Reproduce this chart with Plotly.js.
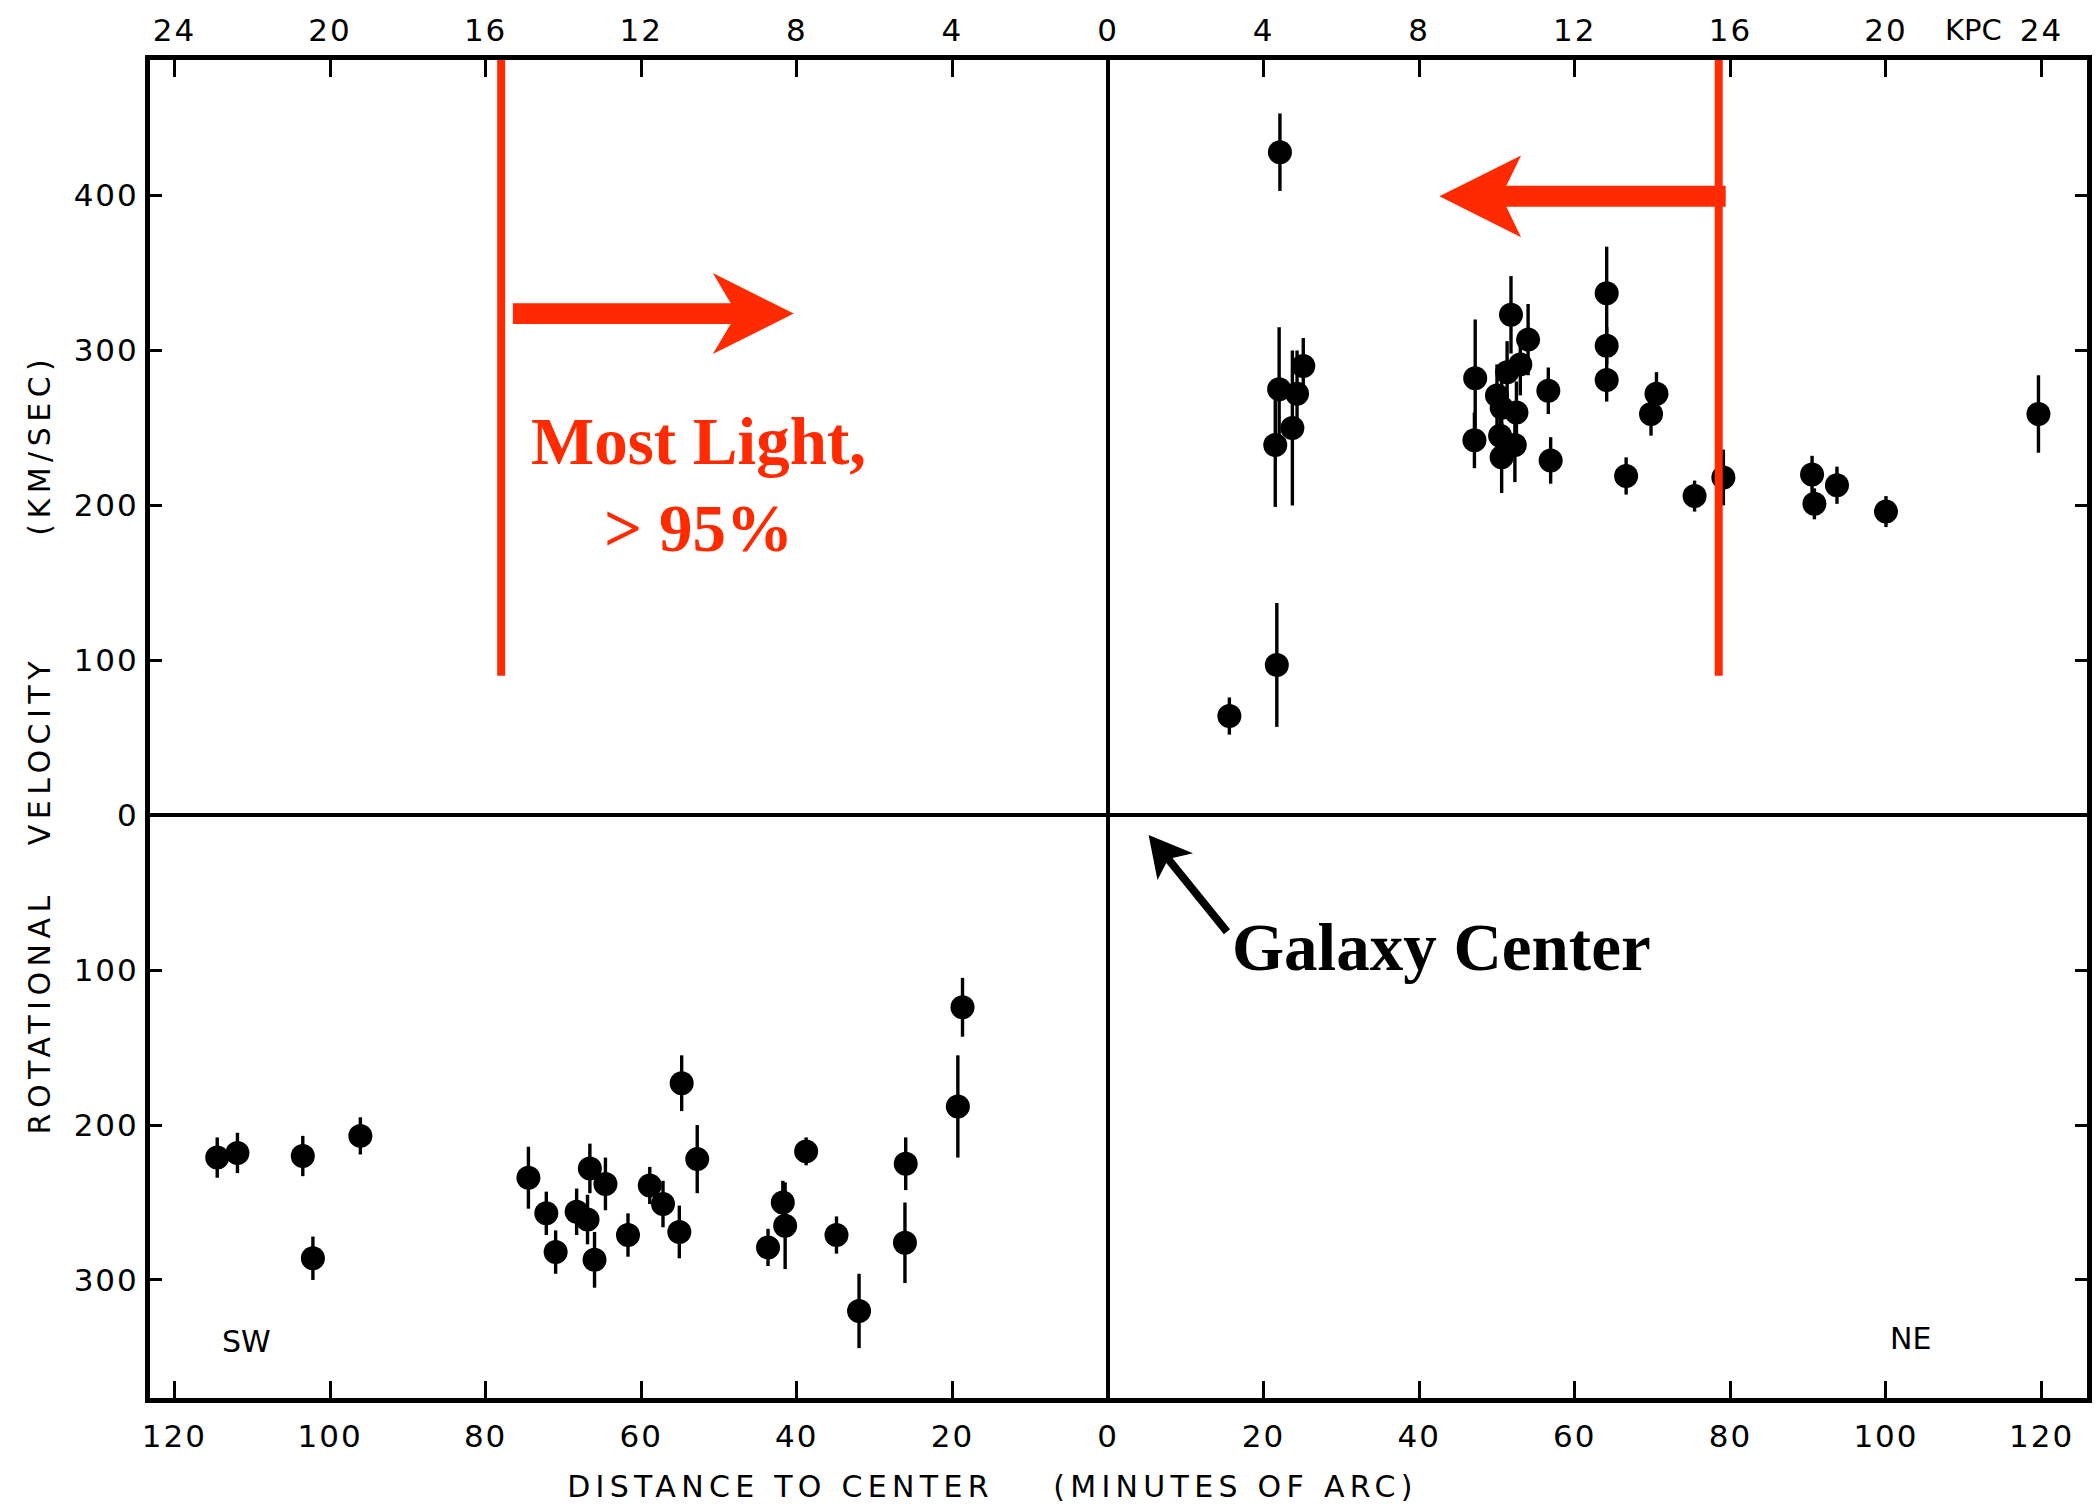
<!DOCTYPE html>
<html>
<head>
<meta charset="utf-8">
<script src="https://cdn.plot.ly/plotly-3.0.1.min.js"></script>
<style>
  html, body { margin: 0; padding: 0; background: #fff; }
  #chart { width: 2099px; height: 1510px; }
  .xtitle { letter-spacing: 5.3px; }
  .ytitle { letter-spacing: 5.5px; }
  .xtick text, .x2tick text, .ytick text { letter-spacing: 2px; }
</style>
</head>
<body>
<div id="chart"></div>
<script>
// ---- Data (distance in arcmin, velocity in km/s) ----
// North-east side (receding, positive velocity)
const neDistance = [15.6, 21.7, 22.1, 21.5, 22.0, 23.7, 24.3, 25.1, 47.2, 47.1, 50.0, 50.6, 50.4, 50.6, 51.3, 51.8, 52.3, 52.5, 53.0, 54.0, 56.6, 56.9, 64.1, 64.1, 64.1, 66.6, 69.8, 70.5, 75.4, 79.1, 90.5, 90.8, 93.7, 100.0, 119.6];
const neVelocity = [64, 97, 428, 239, 275, 250, 272, 290, 282, 242, 271, 263, 245, 231, 286, 323, 239, 260, 291, 307, 274, 229, 337, 303, 281, 219, 259, 272, 206, 218, 220, 201, 213, 196, 259];
const neError    = [12, 40, 25, 40, 40, 50, 28, 18, 38, 18, 20, 20, 20, 23, 20, 25, 24, 20, 20, 23, 15, 15, 30, 12, 14, 12, 14, 14, 10, 18, 12, 10, 12, 10, 25];

// South-west side (approaching, negative velocity)
const swDistance = [-114.5, -111.9, -103.5, -96.1, -102.2, -74.5, -72.2, -71.0, -66.6, -64.6, -68.3, -66.9, -66.0, -61.7, -58.9, -57.2, -55.1, -54.8, -52.8, -43.7, -41.8, -41.5, -38.8, -34.9, -32.0, -26.1, -26.0, -19.3, -18.7];
const swVelocity = [-221, -218, -220, -207, -286, -234, -257, -282, -228, -238, -256, -261, -287, -271, -239, -251, -269, -173, -222, -279, -250, -265, -217, -271, -320, -276, -225, -188, -124];
const swError    = [13, 13, 13, 12, 14, 20, 14, 14, 16, 17, 15, 16, 18, 14, 12, 15, 17, 18, 22, 12, 14, 28, 9, 12, 24, 26, 17, 33, 19];

// Axis ticks
const arcTickVals  = [-120, -100, -80, -60, -40, -20, 0, 20, 40, 60, 80, 100, 120];
const arcTickText  = ['120', '100', '80', '60', '40', '20', '0', '20', '40', '60', '80', '100', '120'];
const kpcTickText  = ['24', '20', '16', '12', '8', '4', '0', '4', '8', '12', '16', '20', '24'];
const velTickVals  = [-300, -200, -100, 0, 100, 200, 300, 400];
const velTickText  = ['300', '200', '100', '0', '100', '200', '300', '400'];

// Limits of the "most light" region (arcmin) and where its markers stop (km/s)
const lightEdge = 78;
const lightBottom = 90;

// ---- Styling ----
const RED = '#ff2a00';
const SANS = 'DejaVu Sans, sans-serif';
const TICKFONT = { family: SANS, size: 31, color: '#000' };
const XR = [-123.14, 125.84];
const YR = [-376.2, 487.5];
const NB = '\u00A0';
const ZW = '\u200B';   // keeps trailing no-break spaces from being trimmed
const sp = (n) => NB.repeat(n);

const dotStyle = { color: '#000', size: 24, symbol: 'circle', line: { width: 0 } };
const errStyle = (arr) => ({ type: 'data', array: arr, visible: true, color: '#000', thickness: 3.4, width: 0 });

const traces = [
  { x: neDistance, y: neVelocity, error_y: errStyle(neError), mode: 'markers', type: 'scatter',
    marker: dotStyle, showlegend: false, hoverinfo: 'x+y', name: 'NE' },
  { x: swDistance, y: swVelocity, error_y: errStyle(swError), mode: 'markers', type: 'scatter',
    marker: dotStyle, showlegend: false, hoverinfo: 'x+y', name: 'SW' },
  { x: [0], y: [0], xaxis: 'x2', yaxis: 'y', mode: 'markers', type: 'scatter',
    marker: { opacity: 0 }, showlegend: false, hoverinfo: 'skip' }
];

// arrow outlines (data coordinates)
function poly(pts) { return 'M' + pts.map(p => p[0] + ',' + p[1]).join(' L') + ' Z'; }
const rightArrow = poly([[-76.5, 330.5], [-48.5, 330.5], [-50.8, 350.0], [-40.4, 323.8], [-50.8, 297.7], [-48.5, 317.1], [-76.5, 317.1]]);
const leftArrow  = poly([[79.4, 406.4], [51.2, 406.4], [53.1, 425.8], [42.6, 399.5], [53.1, 373.1], [51.2, 392.8], [79.4, 392.8]]);
const blackArrow = poly([[5.22, -12.78], [10.93, -24.60], [8.29, -27.70], [15.69, -73.60], [14.90, -76.82], [7.49, -30.92], [6.36, -41.83]]);

const layout = {
  width: 2099, height: 1510,
  margin: { l: 150, r: 12, t: 60, b: 112, pad: 0 },
  paper_bgcolor: '#fff', plot_bgcolor: '#fff',
  showlegend: false,
  xaxis: {
    range: XR, tickmode: 'array', tickvals: arcTickVals, ticktext: arcTickText,
    ticks: 'inside', ticklen: 17, tickwidth: 3, tickcolor: '#000',
    showline: true, linewidth: 5, linecolor: '#000', mirror: true,
    showgrid: false, zeroline: true, zerolinecolor: '#000', zerolinewidth: 4,
    tickfont: TICKFONT, ticklabelstandoff: 7,
    title: { text: 'DISTANCE' + sp(1) + 'TO' + sp(1) + 'CENTER' + sp(4) + '(MINUTES' + sp(1) + 'OF' + sp(1) + 'ARC)' + sp(17) + ZW,
             font: { family: SANS, size: 30, color: '#000' },
             standoff: 24 }
  },
  xaxis2: {
    overlaying: 'x', side: 'top', range: XR, tickmode: 'array', tickvals: arcTickVals, ticktext: kpcTickText,
    ticks: 'inside', ticklen: 17, tickwidth: 3, tickcolor: '#000',
    showline: false, showgrid: false, zeroline: false,
    tickfont: TICKFONT, ticklabelstandoff: 12
  },
  yaxis: {
    range: YR, tickmode: 'array', tickvals: velTickVals, ticktext: velTickText,
    ticks: 'inside', ticklen: 12, tickwidth: 3, tickcolor: '#000',
    showline: true, linewidth: 5, linecolor: '#000', mirror: 'ticks',
    showgrid: false, zeroline: true, zerolinecolor: '#000', zerolinewidth: 4,
    tickfont: TICKFONT, ticklabelstandoff: 0,
    title: { text: 'ROTATIONAL' + sp(3) + 'VELOCITY' + sp(8) + '(KM/SEC)' + sp(2) + ZW,
             font: { family: SANS, size: 30, color: '#000' },
             standoff: 16 }
  },
  shapes: [
    { type: 'line', xref: 'x', yref: 'y', x0: -lightEdge, x1: -lightEdge, y0: lightBottom, y1: YR[1], line: { color: RED, width: 8 } },
    { type: 'line', xref: 'x', yref: 'y', x0: lightEdge + 0.5, x1: lightEdge + 0.5, y0: lightBottom, y1: YR[1], line: { color: RED, width: 8 } },
    { type: 'path', xref: 'x', yref: 'y', path: rightArrow, fillcolor: RED, line: { width: 0 } },
    { type: 'path', xref: 'x', yref: 'y', path: leftArrow, fillcolor: RED, line: { width: 0 } },
    { type: 'path', xref: 'x', yref: 'y', path: blackArrow, fillcolor: '#000', line: { width: 0 } }
  ],
  annotations: [
    { x: -52.7, y: 213.5, xref: 'x', yref: 'y', showarrow: false, align: 'center',
      text: 'Most Light,<br>&gt; 95%',
      font: { family: 'Liberation Serif, DejaVu Serif, serif', size: 67, color: RED, weight: 'bold' } },
    { x: 15.7, y: -85, xref: 'x', yref: 'y', xanchor: 'left', yanchor: 'middle', showarrow: false,
      text: 'Galaxy Center',
      font: { family: 'Liberation Serif, DejaVu Serif, serif', size: 67, color: '#000', weight: 'bold' } },
    { x: -110.8, y: -340, xref: 'x', yref: 'y', showarrow: false, text: 'SW',
      font: { family: SANS, size: 30, color: '#000' } },
    { x: 103.1, y: -338, xref: 'x', yref: 'y', showarrow: false, text: 'NE',
      font: { family: SANS, size: 30, color: '#000' } },
    { x: 111.3, y: 1, xref: 'x', yref: 'paper', yanchor: 'middle', yshift: 30, showarrow: false, text: 'KPC',
      font: { family: SANS, size: 29, color: '#000' } }
  ]
};

Plotly.newPlot('chart', traces, layout, { displayModeBar: false, staticPlot: true });
</script>
</body>
</html>
